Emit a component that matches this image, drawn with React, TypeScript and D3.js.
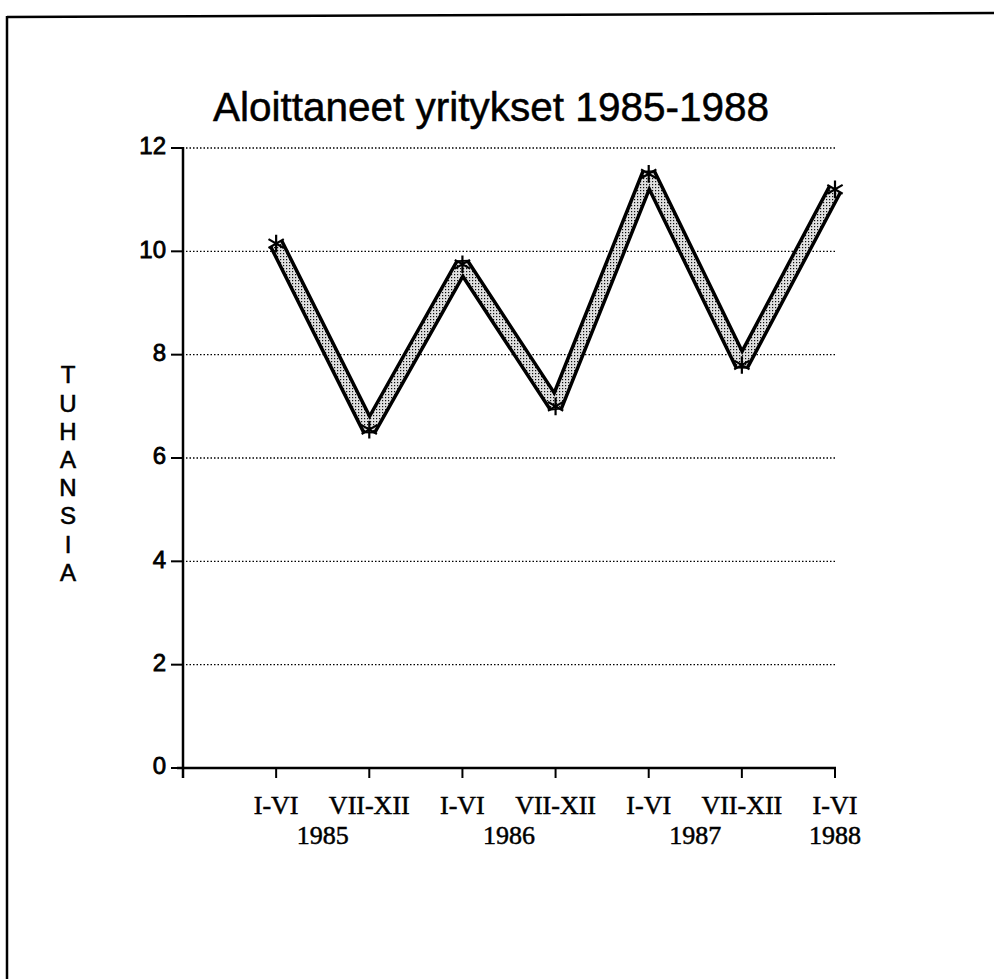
import React from "react";
import * as d3 from "d3";

const title = "Aloittaneet yritykset 1985-1988";
const halfYears = ["I-VI", "VII-XII", "I-VI", "VII-XII", "I-VI", "VII-XII", "I-VI"];
const years = ["1985", "1986", "1987", "1988"];
const yearPos = [1.5, 3.5, 5.5, 7];
const values = [10.15, 6.55, 9.75, 7.0, 11.5, 7.8, 11.2];
const yTicks = [0, 2, 4, 6, 8, 10, 12];
const axisTitle = "TUHANSIA".split("");

export default function App() {
  const W = 994, H = 979;
  const x = d3.scaleLinear().domain([0, 7]).range([183, 835]);
  const y = d3.scaleLinear().domain([0, 12]).range([768, 148]);
  const pts: [number, number][] = values.map((v, i) => [x(i + 1), y(v)]);
  const line = d3.line()(pts) || "";
  const star = d3.symbol().type(d3.symbolAsterisk).size(220)() || "";
  const sans = "Liberation Sans, Arial, sans-serif";
  const serif = "Liberation Serif, Times New Roman, serif";
  return (
    <svg width={W} height={H} style={{ position: "absolute", left: 0, top: 0, background: "#fff" }}>
      <defs>
        <pattern id="stip" width="3" height="3" patternUnits="userSpaceOnUse">
          <rect width="3" height="3" fill="#e0e0e0" />
          <rect x="1" y="1" width="1.2" height="1.2" fill="#111" />
        </pattern>
      </defs>
      <rect width={W} height={H} fill="#fff" />
      {/* frame */}
      <line x1={7} y1={17} x2={994} y2={13} stroke="#000" strokeWidth={2.5} />
      <line x1={7} y1={16} x2={7} y2={979} stroke="#000" strokeWidth={2.5} />
      {/* title */}
      <text x={491} y={121} textAnchor="middle" fontFamily={sans} fontSize={40.5} fill="#000" stroke="#000" strokeWidth={0.5}>{title}</text>
      {/* grid */}
      {yTicks.filter(t => t > 0).map(t => (
        <line key={"g" + t} x1={x(0) + 3} x2={x(7)} y1={y(t)} y2={y(t)} stroke="#000" strokeWidth={1.4} strokeDasharray="1.5 2" />
      ))}
      {/* y axis */}
      <line x1={x(0)} x2={x(0)} y1={y(12) - 1} y2={y(0) + 10} stroke="#000" strokeWidth={2.5} />
      {yTicks.map(t => (
        <g key={"y" + t}>
          <line x1={x(0) - 12} x2={x(0)} y1={y(t)} y2={y(t)} stroke="#000" strokeWidth={2} />
          <text x={x(0) - 17} y={y(t) - 2} dy="0.35em" textAnchor="end" fontFamily={sans} fontSize={24} fill="#000" stroke="#000" strokeWidth={0.8}>{t}</text>
        </g>
      ))}
      {/* x axis */}
      <line x1={x(0) - 6} x2={x(7) + 1} y1={y(0)} y2={y(0)} stroke="#000" strokeWidth={2.5} />
      {halfYears.map((l, i) => (
        <g key={"x" + i}>
          <line x1={x(i + 1)} x2={x(i + 1)} y1={y(0)} y2={y(0) + 10} stroke="#000" strokeWidth={2} />
          <text x={x(i + 1)} y={y(0) + 46} textAnchor="middle" fontFamily={serif} fontSize={26} fill="#000" stroke="#000" strokeWidth={0.5}>{l}</text>
        </g>
      ))}
      {years.map((l, i) => (
        <text key={"yr" + i} x={x(yearPos[i])} y={y(0) + 76} textAnchor="middle" fontFamily={serif} fontSize={26} fill="#000" stroke="#000" strokeWidth={0.5}>{l}</text>
      ))}
      {/* axis title */}
      {axisTitle.map((c, i) => (
        <text key={"a" + i} x={68} y={375 + i * 28.2} dy="0.35em" textAnchor="middle" fontFamily={sans} fontSize={24} fill="#000" stroke="#000" strokeWidth={0.6}>{c}</text>
      ))}
      {/* band */}
      <path d={line} fill="none" stroke="#000" strokeWidth={16} strokeLinejoin="bevel" />
      <path d={line} fill="none" stroke="url(#stip)" strokeWidth={9} strokeLinejoin="bevel" />
      {pts.map((p, i) => (
        <path key={"m" + i} d={star} transform={`translate(${p[0]},${p[1]})`} fill="none" stroke="#000" strokeWidth={2.2} />
      ))}
    </svg>
  );
}
